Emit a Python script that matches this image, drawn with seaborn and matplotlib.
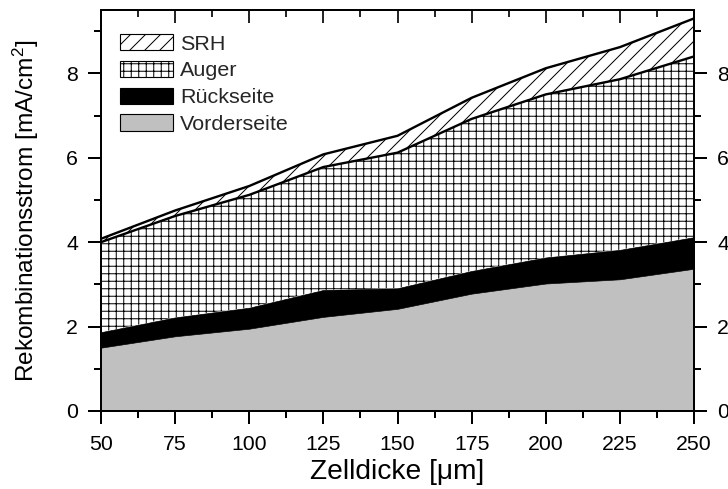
import matplotlib
matplotlib.use("Agg")
import matplotlib.pyplot as plt
from matplotlib.patches import Patch
from matplotlib.ticker import MultipleLocator
import numpy as np
import pandas as pd
import seaborn as sns

# Cell thickness in µm
zelldicke = [50, 75, 100, 125, 150, 175, 200, 225, 250]
# Recombination current contributions in mA/cm² (stacked from bottom to top)
vorderseite = [1.50, 1.77, 1.95, 2.23, 2.42, 2.78, 3.02, 3.12, 3.37]
rueckseite = [0.37, 0.45, 0.50, 0.64, 0.49, 0.54, 0.62, 0.70, 0.75]
auger = [2.13, 2.40, 2.67, 2.91, 3.21, 3.60, 3.86, 4.04, 4.28]
srh = [0.08, 0.13, 0.21, 0.30, 0.40, 0.50, 0.62, 0.76, 0.90]

x_ticks = [50, 75, 100, 125, 150, 175, 200, 225, 250]
y_ticks = [0, 2, 4, 6, 8]

sns.set_theme(style="ticks")
plt.rcParams["font.family"] = ["Liberation Sans", "DejaVu Sans"]
plt.rcParams["mathtext.fontset"] = "custom"
plt.rcParams["mathtext.rm"] = "Liberation Sans"
plt.rcParams["mathtext.default"] = "regular"
plt.rcParams["hatch.color"] = "black"
plt.rcParams["hatch.linewidth"] = 0.8

DPI = 90
fig = plt.figure(figsize=(728 / DPI, 489 / DPI), dpi=DPI)
ax = fig.add_axes([101 / 728, 1 - 411 / 489, (694 - 101) / 728, (411 - 10) / 489])

df = pd.DataFrame({
    "x": zelldicke,
    "vorder": vorderseite,
    "rueck": rueckseite,
    "auger": auger,
    "srh": srh,
})
df["c1"] = df["vorder"]
df["c2"] = df["c1"] + df["rueck"]
df["c3"] = df["c2"] + df["auger"]
df["c4"] = df["c3"] + df["srh"]

zero = np.zeros(len(df))
ax.fill_between(df["x"], zero, df["c1"], facecolor="#c0c0c0", edgecolor="none", linewidth=0, zorder=1)
ax.fill_between(df["x"], df["c1"], df["c2"], facecolor="black", edgecolor="black", linewidth=0.5, zorder=1)
ax.fill_between(df["x"], df["c2"], df["c3"], facecolor="white", edgecolor="black", linewidth=0,
                hatch="++", zorder=1)
ax.fill_between(df["x"], df["c3"], df["c4"], facecolor="white", edgecolor="black", linewidth=0,
                hatch="//", zorder=1)

# Boundary lines on top of the hatched layers
sns.lineplot(data=df, x="x", y="c3", color="black", linewidth=1.9, ax=ax, zorder=3)
sns.lineplot(data=df, x="x", y="c4", color="black", linewidth=1.9, ax=ax, zorder=3)

ax.set_xlim(50, 250)
ax.set_ylim(0, 9.5)
ax.set_xticks(x_ticks)
ax.set_yticks(y_ticks)
ax.xaxis.set_minor_locator(MultipleLocator(12.5))
ax.yaxis.set_minor_locator(MultipleLocator(1))

for s in ax.spines.values():
    s.set_linewidth(1.6)
    s.set_color("black")
    s.set_zorder(5)

ax.tick_params(axis="both", which="major", direction="out", length=10.4, width=1.6,
               labelsize=17, colors="black")
ax.tick_params(axis="both", which="minor", direction="out", length=5.6, width=1.6, colors="black")
ax.tick_params(axis="x", which="major", pad=9)
ax.tick_params(axis="y", which="major", pad=8)
ax.tick_params(axis="y", which="both", left=True, right=True, labelleft=True, labelright=True)
ax.tick_params(axis="x", which="both", bottom=True, top=False)

# Top axis with inward ticks and no labels
top = ax.secondary_xaxis("top")
top.set_xticks(x_ticks)
top.xaxis.set_minor_locator(MultipleLocator(12.5))
top.tick_params(axis="x", which="major", direction="in", length=10.4, width=1.6, labeltop=False)
top.tick_params(axis="x", which="minor", direction="in", length=5.6, width=1.6)
top.spines["top"].set_linewidth(1.6)

ax.set_xlabel("Zelldicke [μm]", fontsize=22.5, labelpad=4, color="black")
ax.set_ylabel("Rekombinationsstrom [mA/cm$^2$]", fontsize=19.5, labelpad=20, color="black")

handles = [
    Patch(facecolor="white", edgecolor="black", hatch="//", linewidth=0.9, label="SRH"),
    Patch(facecolor="white", edgecolor="black", hatch="++", linewidth=0.9, label="Auger"),
    Patch(facecolor="black", edgecolor="black", linewidth=0.9, label="Rückseite"),
    Patch(facecolor="#c0c0c0", edgecolor="black", linewidth=0.9, label="Vorderseite"),
]
leg = ax.legend(handles=handles, loc="upper left", bbox_to_anchor=(0.032, 0.94), frameon=False,
                fontsize=17.2, handlelength=2.47, handleheight=0.79, handletextpad=0.33,
                labelspacing=0.33, borderaxespad=0.0, borderpad=0.0)
leg.set_zorder(6)

fig.savefig("out.png", dpi=DPI)
